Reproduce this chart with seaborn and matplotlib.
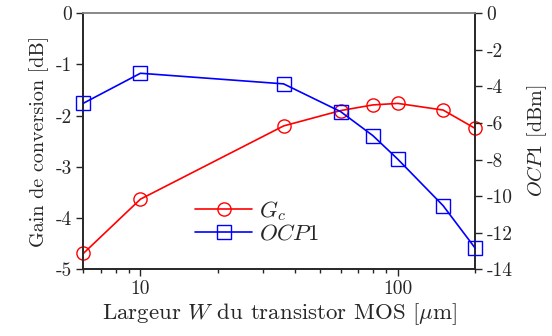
import matplotlib
matplotlib.use("Agg")
import matplotlib.pyplot as plt
import matplotlib.ticker as mticker
import seaborn as sns
import pandas as pd

# Données
largeur_w = [6, 10, 36, 60, 80, 100, 150, 200]
gain_gc = [-4.69, -3.63, -2.20, -1.90, -1.79, -1.76, -1.89, -2.25]
ocp1 = [-4.92, -3.28, -3.86, -5.38, -6.69, -7.98, -10.52, -12.85]
ticks_gain = [0, -1, -2, -3, -4, -5]
ticks_ocp = [0, -2, -4, -6, -8, -10, -12, -14]

sns.set_style("ticks")
plt.rcParams["font.family"] = ["cmr10", "DejaVu Serif"]
plt.rcParams["mathtext.fontset"] = "cm"
plt.rcParams["axes.formatter.use_mathtext"] = True

df = pd.DataFrame({"W": largeur_w, "Gc": gain_gc, "OCP1": ocp1})

fig = plt.figure(figsize=(5.52, 3.36), dpi=100)
ax = fig.add_axes([0.151, 0.1985, 0.710, 0.762])
ax2 = ax.twinx()

sns.lineplot(data=df, x="W", y="Gc", ax=ax, color="#ff0000", marker="o",
             markersize=9.5, markerfacecolor="none", markeredgecolor="#ff0000",
             markeredgewidth=1.0, linewidth=1.2, label="$G_c$", legend=False,
             clip_on=False, zorder=5)
sns.lineplot(data=df, x="W", y="OCP1", ax=ax2, color="#0000ff", marker="s",
             markersize=9.5, markerfacecolor="none", markeredgecolor="#0000ff",
             markeredgewidth=1.0, linewidth=1.2, label="$OCP1$", legend=False,
             clip_on=False, zorder=5)

ax.set_xscale("log")
ax.set_xlim(6, 200)
ax.set_ylim(-5, 0)
ax2.set_ylim(-14, 0)
ax.set_yticks(ticks_gain)
ax2.set_yticks(ticks_ocp)
plain = mticker.FuncFormatter(lambda v, p: f"{v:g}")
ax.xaxis.set_major_formatter(plain)
ax.xaxis.set_minor_formatter(mticker.NullFormatter())
ax.yaxis.set_major_formatter(plain)
ax2.yaxis.set_major_formatter(plain)

ax.set_xlabel("Largeur $W$ du transistor MOS [$\\mu$m]", fontsize=16.5, labelpad=2)
ax.set_ylabel("Gain de conversion [dB]", fontsize=14.5, labelpad=5)
ax2.set_ylabel("$OCP1$ [dBm]", fontsize=14.5, labelpad=9)
for a in (ax, ax2):
    a.tick_params(axis="both", which="major", labelsize=14, direction="out",
                  length=5, width=1, pad=3)
    a.tick_params(axis="both", which="minor", direction="out", length=3, width=1)
    for s in a.spines.values():
        s.set_visible(True)
        s.set_linewidth(1.2)
    a.spines["top"].set_color("#888888")

h1, l1 = ax.get_legend_handles_labels()
h2, l2 = ax2.get_legend_handles_labels()
ax2.legend(h1 + h2, l1 + l2, loc="center left", bbox_to_anchor=(0.285, 0.187),
           frameon=False, fontsize=16.5, handlelength=2.5, borderpad=0,
           borderaxespad=0, labelspacing=0.05, handletextpad=0.3)

fig.savefig("out.png", dpi=100)
